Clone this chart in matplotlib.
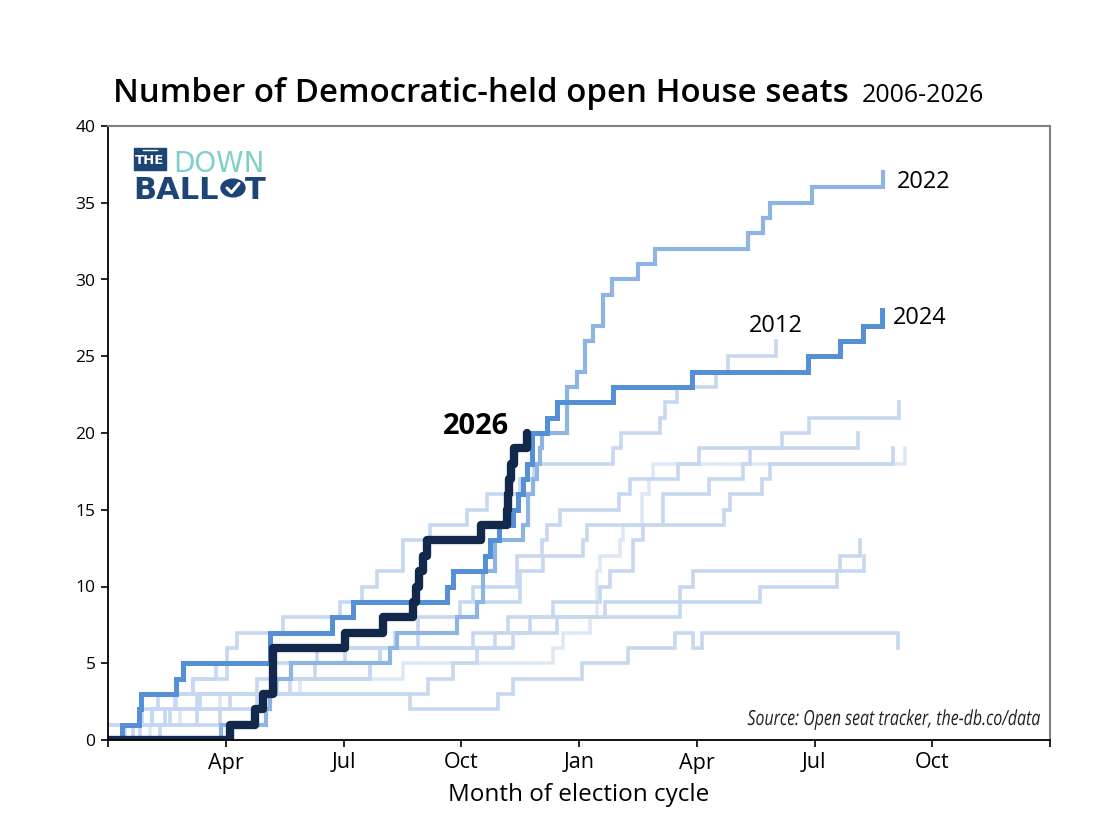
import matplotlib
matplotlib.use("Agg")
import matplotlib.pyplot as plt
from matplotlib.patches import Rectangle, Circle, PathPatch
from matplotlib.lines import Line2D
from matplotlib.textpath import TextPath
from matplotlib.font_manager import FontProperties
from matplotlib.transforms import Affine2D

plt.rcParams['font.family'] = ['Open Sans', 'DejaVu Sans']

# ---------------- data (x = months since Jan 1 of the odd year) ----------------
x_2006 = [0, 0.36, 0.87, 1.73, 7.69, 9.94, 10.32, 12.08, 13.25, 14.45, 14.90, 15.13, 20.13]
y_2006 = [0, 1, 2, 3, 2, 3, 4, 5, 6, 7, 6, 7, 6]

x_2008 = [0, 1.07, 1.83, 2.85, 4.89, 7.52, 11.34, 11.59, 12.28, 12.46, 12.54, 13.04, 13.12, 13.61, 13.78, 13.89, 20.31]
y_2008 = [0, 1, 2, 3, 4, 5, 6, 7, 8, 11, 12, 13, 14, 16, 17, 18, 19]

x_2010 = [0, 2.85, 3.80, 4.31, 6.68, 6.93, 10.32, 11.44, 12.66, 16.61, 18.57, 19.26]
y_2010 = [1, 2, 3, 4, 5, 6, 7, 8, 9, 10, 11, 12]

x_2012 = [0, 1.12, 1.27, 2.17, 2.75, 3.03, 3.29, 4.46, 5.91, 6.47, 6.85, 7.52, 8.20, 9.15, 9.66,
          10.50, 10.85, 12.87, 13.07, 14.06, 14.19, 14.50, 15.49, 15.80, 17.02]
y_2012 = [1, 2, 3, 4, 5, 6, 7, 8, 9, 10, 11, 13, 14, 15, 16, 17, 18, 19, 20, 21, 22, 23, 24, 25, 26]

x_2014 = [0, 0.82, 1.45, 2.34, 4.64, 6.68, 6.93, 9.30, 10.19, 11.34, 12.54, 12.79, 13.38, 13.63,
          15.69, 15.85, 16.66, 16.87, 20.00]
y_2014 = [0, 1, 2, 3, 4, 5, 6, 7, 8, 9, 10, 11, 13, 14, 15, 16, 17, 18, 19]

x_2016 = [0, 1.32, 2.27, 3.11, 8.15, 8.79, 9.40, 9.86, 10.75, 14.57, 14.90, 18.65, 19.16]
y_2016 = [0, 1, 2, 3, 4, 5, 6, 7, 8, 10, 11, 12, 13]

x_2018 = [0, 0.43, 1.58, 2.27, 3.80, 5.27, 6.04, 7.31, 7.90, 8.97, 9.30, 10.42, 11.06, 11.19, 11.52,
          13.02, 13.30, 14.52, 15.06, 17.17, 17.86, 20.15]
y_2018 = [0, 1, 2, 3, 4, 5, 6, 7, 8, 9, 10, 12, 13, 14, 15, 16, 17, 18, 19, 20, 21, 22]

x_2020 = [0, 0.64, 1.12, 1.71, 2.17, 3.03, 5.33, 7.90, 8.89, 9.40, 10.50, 11.08, 12.10, 12.20,
          14.14, 15.31, 16.18, 16.36, 19.11]
y_2020 = [0, 1, 2, 3, 4, 5, 6, 7, 8, 9, 11, 12, 13, 14, 16, 17, 18, 19, 20]

x_2022 = [0, 2.88, 4.03, 4.13, 4.28, 4.66, 7.19, 7.36, 8.89, 9.40, 9.55, 9.86, 10.57, 10.70, 10.83,
          10.93, 11.01, 11.06, 11.70, 11.95, 12.15, 12.36, 12.61, 12.84, 13.50, 13.94, 16.31,
          16.69, 16.87, 17.94, 19.75]
y_2022 = [0, 1, 2, 3, 4, 5, 6, 7, 8, 9, 11, 13, 14, 16, 17, 18, 19, 20, 23, 24, 26, 27, 29, 30,
          31, 32, 33, 34, 35, 36, 37]

x_2024 = [0, 0.36, 0.79, 0.84, 1.73, 1.91, 4.13, 5.71, 6.24, 8.64, 8.79, 9.61, 9.73, 9.96, 10.32,
          10.45, 10.57, 10.68, 10.80, 11.19, 11.44, 12.87, 14.88, 17.83, 18.65, 19.24, 19.72]
y_2024 = [0, 1, 2, 3, 4, 5, 7, 8, 9, 10, 11, 12, 13, 14, 15, 16, 17, 18, 20, 21, 22, 23, 24, 25,
          26, 27, 28]

x_2026 = [0, 3.11, 3.75, 3.95, 4.20, 6.04, 7.01, 7.77, 7.85, 7.92, 8.03, 8.13, 9.50, 10.17, 10.19,
          10.22, 10.27, 10.34, 10.68]
y_2026 = [0, 1, 2, 3, 6, 7, 8, 9, 10, 11, 12, 13, 14, 15, 16, 17, 18, 19, 20]

tick_months = [0, 3, 6, 9, 12, 15, 18, 21, 24]
tick_labels = ['', 'Apr', 'Jul', 'Oct', 'Jan', 'Apr', 'Jul', 'Oct', '']

# ---------------- figure ----------------
W, H = 1118, 827
fig = plt.figure(figsize=(W / 100, H / 100), dpi=100)
ax = fig.add_axes([108 / W, 1 - 740 / H, 942 / W, 614 / H])

light = '#c6d8f0'
lighter = '#dde8f6'

for xs, ys, col in [(x_2006, y_2006, light), (x_2008, y_2008, lighter), (x_2010, y_2010, light),
                    (x_2014, y_2014, light), (x_2016, y_2016, light), (x_2018, y_2018, light),
                    (x_2020, y_2020, light), (x_2012, y_2012, light)]:
    ax.plot(xs, ys, drawstyle='steps-post', color=col, lw=2.6, solid_joinstyle='miter')

ax.plot(x_2022, y_2022, drawstyle='steps-post', color='#8db4e3', lw=3.0, solid_joinstyle='miter')
ax.plot(x_2024, y_2024, drawstyle='steps-post', color='#5590d6', lw=3.6, solid_joinstyle='miter')
ax.plot(x_2026, y_2026, drawstyle='steps-post', color='#13294b', lw=6.0,
        solid_joinstyle='round', solid_capstyle='round')

ax.set_xlim(0, 24)
ax.set_ylim(0, 40)
ax.set_xticks(tick_months)
ax.set_xticklabels(tick_labels, fontsize=15.5)
ax.set_yticks(range(0, 41, 5))
ax.tick_params(axis='y', labelsize=12.5, length=5, width=1.2, pad=4)
ax.tick_params(axis='x', length=5, width=1.2, pad=4)
ax.set_xlabel('Month of election cycle', fontsize=17.5, labelpad=7)

for s in ['left', 'bottom']:
    ax.spines[s].set_color('black')
    ax.spines[s].set_linewidth(1.3)
for s in ['top', 'right']:
    ax.spines[s].set_color('#808080')
    ax.spines[s].set_linewidth(1.5)

# series labels
ax.text(20.1, 36.35, '2022', fontsize=17, va='center', ha='left')
ax.text(20.0, 27.5, '2024', fontsize=17, va='center', ha='left')
ax.text(17.02, 27.0, '2012', fontsize=17, va='center', ha='center')
ax.text(9.38, 20.4, '2026', fontsize=21, fontweight='bold', va='center', ha='center')

# source note: condensed italic, drawn as a horizontally squeezed text path
src_fp = FontProperties(family='Open Sans', style='italic', size=15)
src_path = TextPath((0, 0), 'Source: Open seat tracker, the-db.co/data', prop=src_fp)
ext = src_path.get_extents()
sx = 0.765
pt = 100 / 72
x_right, y_base = 1040, 827 - 725
tr = Affine2D().scale(sx * pt, pt).translate(x_right - ext.x1 * sx * pt, y_base)
fig.add_artist(PathPatch(src_path, transform=tr, facecolor='#222222', edgecolor='none', lw=0))

# title
def px(x, y):
    return x / W, 1 - y / H

fig.text(*px(113, 102), 'Number of Democratic-held open House seats', fontsize=23.8,
         fontweight='semibold', ha='left', va='baseline')
fig.text(*px(862, 102), '2006-2026', fontsize=18, ha='left', va='baseline')

# logo
navy = '#1d4477'
fig.patches.append(Rectangle(px(134, 170), 32 / W, 22 / H, transform=fig.transFigure,
                             color=navy, zorder=5))
fig.lines.append(Line2D([px(143, 150)[0], px(157, 150)[0]], [px(0, 150)[1]] * 2,
                        transform=fig.transFigure, color='white', lw=1, zorder=6))
fig.text(*px(150, 161), 'THE', color='white', fontsize=9.5, fontweight='bold',
         ha='center', va='center', family='DejaVu Sans', zorder=7)
fig.text(*px(173, 172), 'DOWN', color='#7fd0cb', fontsize=20, ha='left', va='baseline',
         family='DejaVu Sans')
fig.text(*px(133, 199), 'BALL', color=navy, fontsize=22, fontweight='bold', ha='left',
         va='baseline', family='DejaVu Sans')
fig.patches.append(Circle(px(233, 188), 12 / W, transform=fig.transFigure, color=navy, zorder=5))
cx = [px(227, 188)[0], px(231.5, 192.5)[0], px(239, 183.5)[0]]
cy = [px(227, 188)[1], px(231.5, 192.5)[1], px(239, 183.5)[1]]
fig.lines.append(Line2D(cx, cy, transform=fig.transFigure, color='white', lw=2.2, zorder=6,
                        solid_capstyle='round'))
fig.text(*px(245, 199), 'T', color=navy, fontsize=22, fontweight='bold', ha='left',
         va='baseline', family='DejaVu Sans')

fig.savefig('out.png', dpi=100)
